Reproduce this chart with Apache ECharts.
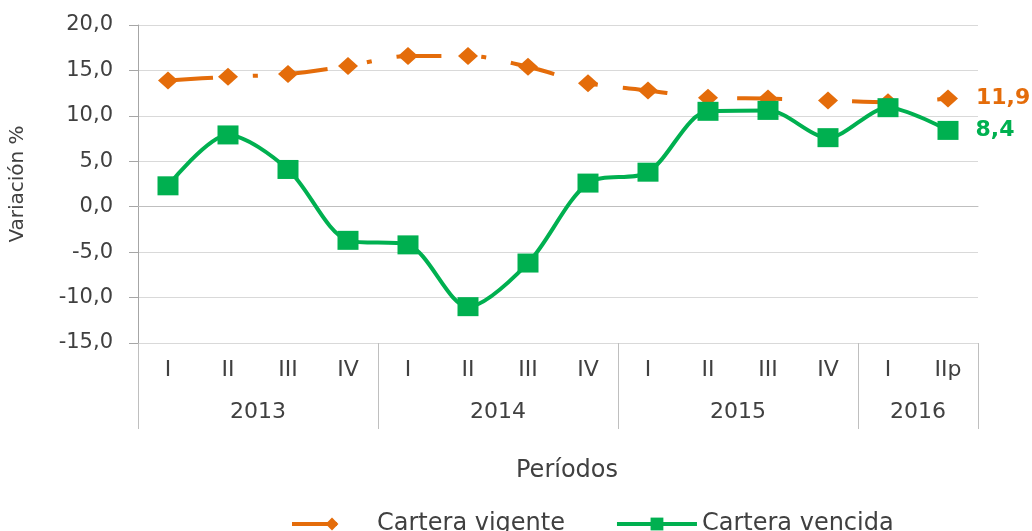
<!DOCTYPE html>
<html>
<head>
<meta charset="utf-8">
<script src="https://cdn.jsdelivr.net/npm/echarts@6/dist/echarts.min.js"></script>
<style>html,body{margin:0;padding:0;background:#fff}#c{width:1032px;height:531px}</style>
</head>
<body>
<div id="c"></div>
<script>
var quarters = ['I','II','III','IV','I','II','III','IV','I','II','III','IV','I','IIp'];
var years = ['2013','2014','2015','2016'];
var quartersPerYear = [4,4,4,2];
var vigente = [13.9, 14.3, 14.6, 15.5, 16.6, 16.6, 15.4, 13.6, 12.8, 12.0, 11.9, 11.7, 11.5, 11.9];
var vencida = [2.3, 7.9, 4.1, -3.7, -4.2, -11.0, -6.2, 2.6, 3.8, 10.5, 10.6, 7.6, 10.9, 8.4];
var seriesNames = ['Cartera vigente','Cartera vencida'];

// build year axis: boundary slots 0..N
var N = quarters.length;
var yearSlots = [];
for (var i = 0; i <= N; i++) yearSlots.push('');
var boundaries = [0];
var pos = 0;
for (var y = 0; y < years.length; y++) {
  var mid = pos + quartersPerYear[y] / 2;
  yearSlots[mid] = years[y];
  pos += quartersPerYear[y];
  boundaries.push(pos);
}

var FONT = 'DejaVu Sans';
var TXT = '#404040';
var ORANGE = '#E46C0A';
var GREEN = '#00B050';

var chart = echarts.init(document.getElementById('c'));
chart.setOption({
  animation: false,
  textStyle: {fontFamily: FONT},
  title: {
    text: 'Períodos', left: 511, top: 454,
    textStyle: {fontFamily: FONT, fontSize: 24, fontWeight: 'normal', color: TXT}
  },
  legend: {
    data: seriesNames, left: 285, top: 507, itemWidth: 80, itemHeight: 16, itemGap: 50,
    lineStyle: {width: 4},
    textStyle: {fontFamily: FONT, fontSize: 24, color: TXT}
  },
  grid: {left: 135, right: 54, top: 25, bottom: 188, containLabel: false},
  xAxis: [
    {
      type: 'category', data: quarters, position: 'bottom',
      axisLine: {lineStyle: {color: '#BFBFBF', width: 1}},
      axisTick: {show: false},
      axisLabel: {interval: 0, margin: 16, fontSize: 22, color: TXT, fontFamily: FONT}
    },
    {
      type: 'category', data: yearSlots, position: 'bottom', boundaryGap: false,
      axisLine: {show: false},
      axisTick: {show: true, length: 86, lineStyle: {color: '#BFBFBF', width: 1},
        interval: function (idx) { return boundaries.indexOf(idx) >= 0; }},
      axisLabel: {interval: 0, margin: 58, fontSize: 22, color: TXT, fontFamily: FONT}
    }
  ],
  yAxis: {
    type: 'value', min: -15, max: 20, interval: 5,
    name: 'Variación %', nameLocation: 'middle', nameGap: 110, nameRotate: 90,
    nameTextStyle: {fontFamily: FONT, fontSize: 20, color: TXT},
    axisLine: {show: true, lineStyle: {color: '#A6A6A6'}},
    axisTick: {show: true, length: 9, lineStyle: {color: '#A6A6A6'}},
    axisLabel: {margin: 25, fontSize: 21, color: TXT, fontFamily: FONT,
      formatter: function (v) { return v.toFixed(1).replace('.', ','); }},
    splitLine: {lineStyle: {color: '#D9D9D9', width: 1}}
  },
  series: [
    {
      name: seriesNames[0], type: 'line', data: vigente, smooth: 0.3,
      symbol: 'diamond', symbolSize: [20, 18],
      itemStyle: {color: ORANGE},
      lineStyle: {color: ORANGE, width: 4, type: [45, 40, 5, 25], cap: 'butt'},
      label: {show: true, position: 'right', distance: 18, fontSize: 22, fontWeight: 'bold',
        color: ORANGE, fontFamily: FONT,
        formatter: function (p) { return p.dataIndex === N - 1 ? p.value.toFixed(1).replace('.', ',') : ''; }},
      z: 3
    },
    {
      name: seriesNames[1], type: 'line', data: vencida, smooth: 0.3,
      symbol: 'rect', symbolSize: [21, 19],
      itemStyle: {color: GREEN},
      lineStyle: {color: GREEN, width: 4},
      label: {show: true, position: 'right', distance: 17, fontSize: 22, fontWeight: 'bold',
        color: GREEN, fontFamily: FONT,
        formatter: function (p) { return p.dataIndex === N - 1 ? p.value.toFixed(1).replace('.', ',') : ''; }},
      z: 4
    }
  ]
});
</script>
</body>
</html>
